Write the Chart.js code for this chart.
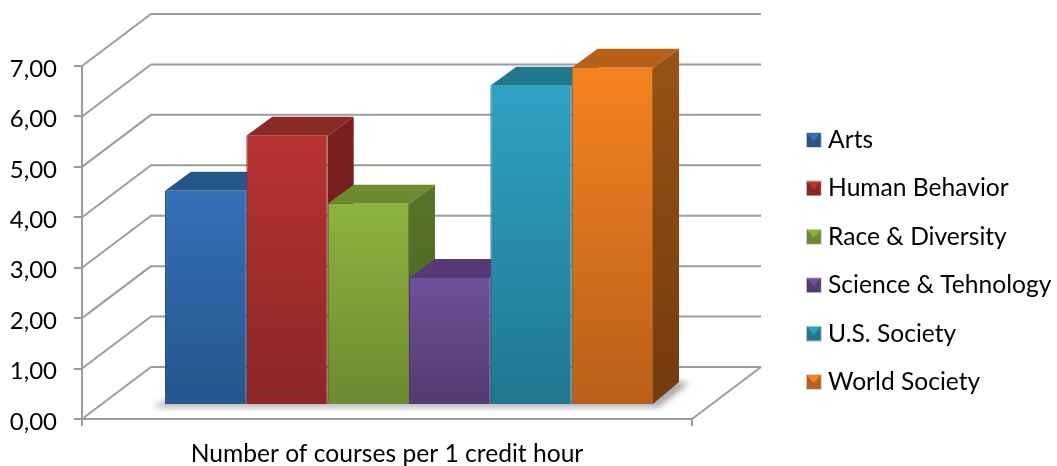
<!DOCTYPE html>
<html>
<head>
<meta charset="utf-8">
<style>
  html, body { margin: 0; padding: 0; background: #fff; }
  canvas { display: block; }
</style>
<script src="https://cdn.jsdelivr.net/npm/chart.js@4/dist/chart.umd.js"></script>
</head>
<body>
<canvas id="chart" width="1057" height="466"></canvas>
<script>
const categories = ["Number of courses per 1 credit hour"];
const seriesNames = ["Arts", "Human Behavior", "Race & Diversity", "Science & Tehnology", "U.S. Society", "World Society"];
const arts = [4.25];
const humanBehavior = [5.34];
const raceDiversity = [3.99];
const scienceTechnology = [2.52];
const usSociety = [6.33];
const worldSociety = [6.69];
const seriesValues = [arts, humanBehavior, raceDiversity, scienceTechnology, usSociety, worldSociety];

// front top colour, front bottom colour, top face, side top, side bottom
const palette = [
  ["#3570b8", "#26558c", "#265588", "#1f4672", "#1f4672"],
  ["#b93333", "#8a2725", "#8c2825", "#7a2020", "#6a1c1c"],
  ["#8db33e", "#6b8a30", "#6d8b2e", "#58732a", "#4c6324"],
  ["#6e5197", "#533a72", "#563a78", "#48316a", "#3f2b5c"],
  ["#2fa2c4", "#21778f", "#20788f", "#1b6478", "#185868"],
  ["#f5821f", "#b8601a", "#b85f18", "#9a5314", "#753c0f"],
];

// the 3d look: how far the walls and the bars go back
const wallX = 69, wallY = 52;
const barShiftX = 22, barShiftY = 14;
const depthX = 26, depthY = 19, depthBaseY = 22;
const gridColor = "#9c9c9c";
const textColor = "#000";
const fontFamily = "Lato, 'Open Sans', sans-serif";
const fontSize = 24.6;

function frontGradient(ctx, i) {
  const chart = ctx.chart;
  if (!chart.scales.y || ctx.parsed === undefined) return palette[i][0];
  const y = chart.scales.y;
  const g = chart.ctx.createLinearGradient(0, y.getPixelForValue(ctx.parsed.y), 0, y.getPixelForValue(0));
  g.addColorStop(0, palette[i][0]);
  g.addColorStop(1, palette[i][1]);
  return g;
}

// small bevelled square for the legend
function swatch(i) {
  const c = document.createElement("canvas");
  c.width = 16;
  c.height = 16;
  const x = c.getContext("2d");
  x.fillStyle = palette[i][1];
  x.fillRect(0, 0, 16, 16);
  x.fillStyle = palette[i][0];
  x.beginPath();
  x.moveTo(1, 1);
  x.lineTo(15, 1);
  x.lineTo(8, 9);
  x.closePath();
  x.fill();
  x.strokeStyle = "#d8d8d8";
  x.strokeRect(0.5, 0.5, 15, 15);
  return c;
}

function face(ctx, pts, fill) {
  ctx.fillStyle = fill;
  ctx.beginPath();
  pts.forEach((p, i) => (i ? ctx.lineTo(p[0], p[1]) : ctx.moveTo(p[0], p[1])));
  ctx.closePath();
  ctx.fill();
}

const walls3d = {
  id: "walls3d",
  // the legend would clip its long labels, so give it the whole right side
  afterLayout(chart) {
    const lg = chart.legend;
    lg.left = 788;
    lg.right = chart.width;
    lg.width = lg.right - lg.left;
    lg.bottom = 456;
    lg.height = lg.bottom - lg.top;
  },
  beforeDatasetsDraw(chart) {
    const { ctx, chartArea, scales } = chart;
    ctx.save();
    ctx.strokeStyle = gridColor;
    ctx.lineWidth = 2;
    ctx.lineJoin = "round";
    scales.y.ticks.forEach((t) => {
      const py = scales.y.getPixelForValue(t.value);
      ctx.beginPath();
      ctx.moveTo(chartArea.left, py);
      ctx.lineTo(chartArea.left + wallX, py - wallY);
      ctx.lineTo(chartArea.right + wallX, py - wallY);
      ctx.stroke();
    });
    const floor = scales.y.getPixelForValue(0);
    ctx.beginPath();
    ctx.moveTo(chartArea.right, floor);
    ctx.lineTo(chartArea.right + wallX, floor - wallY);
    ctx.stroke();

    // soft shadow on the floor
    const first = chart.getDatasetMeta(0).data[0];
    const last = chart.getDatasetMeta(seriesValues.length - 1).data[0];
    const l = first.x - first.width / 2 + barShiftX;
    const r = last.x + last.width / 2 + barShiftX;
    const b = floor - barShiftY;
    ctx.filter = "blur(3px)";
    face(ctx, [[l - 12, b + 2], [r + 6, b + 2], [r + 36, b - 22], [r + 20, b - 24], [r, b - 4], [l, b - 4]], "#a6a6a6");
    ctx.filter = "none";

    // top and side faces go left to right, the library then paints the fronts over them
    ctx.translate(barShiftX, -barShiftY);
    seriesValues.forEach((vals, i) => {
      const bar = chart.getDatasetMeta(i).data[0];
      const bl = bar.x - bar.width / 2;
      const br = bar.x + bar.width / 2;
      const top = bar.y;
      const base = bar.base;
      const side = ctx.createLinearGradient(0, top - depthY, 0, base - depthBaseY);
      side.addColorStop(0, palette[i][3]);
      side.addColorStop(1, palette[i][4]);
      face(ctx, [[br, top], [br + depthX, top - depthY], [br + depthX, base - depthBaseY], [br, base]], side);
      face(ctx, [[bl, top], [bl + depthX, top - depthY], [br + depthX, top - depthY], [br, top]], palette[i][2]);
    });
    ctx.restore();
  },
  beforeDatasetDraw(chart) {
    chart.ctx.save();
    chart.ctx.translate(barShiftX, -barShiftY);
  },
  afterDatasetDraw(chart) {
    chart.ctx.restore();
  },
};

new Chart(document.getElementById("chart"), {
  type: "bar",
  plugins: [walls3d],
  data: {
    labels: categories,
    datasets: seriesNames.map((name, i) => ({
      label: name,
      data: seriesValues[i],
      clip: false,
      backgroundColor: (ctx) => frontGradient(ctx, i),
      borderWidth: { left: 1, right: 1 },
      borderColor: palette[i][1],
      categoryPercentage: 0.8,
      barPercentage: 1,
    })),
  },
  options: {
    responsive: false,
    animation: false,
    layout: { padding: { left: 0, top: 66, right: 115, bottom: 0 } },
    plugins: {
      tooltip: { enabled: false },
      legend: {
        position: "right",
        onClick: null,
        labels: {
          font: { family: fontFamily, size: fontSize },
          color: textColor,
          padding: 23.8,
          usePointStyle: true,
          pointStyleWidth: 4,
          generateLabels: () => seriesNames.map((name, i) => ({ text: name, pointStyle: swatch(i), datasetIndex: i, fontColor: textColor })),
        },
      },
    },
    scales: {
      x: {
        grid: { drawOnChartArea: false, offset: true, tickLength: 7, tickColor: gridColor, lineWidth: 2 },
        border: { color: gridColor, width: 2 },
        ticks: { font: { family: fontFamily, size: fontSize }, color: textColor, padding: 13, maxRotation: 0 },
        afterFit(s) { s.height = 47; },
      },
      y: {
        min: 0,
        max: 7,
        grid: { drawOnChartArea: false, tickLength: 8, tickColor: gridColor, lineWidth: 2 },
        border: { color: gridColor, width: 2 },
        ticks: {
          stepSize: 1,
          font: { family: fontFamily, size: 24 },
          color: textColor,
          padding: 17,
          labelOffset: 3,
          callback: (v) => v.toFixed(2).replace(".", ","),
        },
        afterFit(s) { s.width = 82; },
      },
      // keeps the gap between the plot and the legend
      gap: {
        position: "right",
        grid: { display: false },
        border: { display: false },
        ticks: { display: false },
        afterFit(s) { s.width = 93; },
      },
    },
  },
});
</script>
</body>
</html>
